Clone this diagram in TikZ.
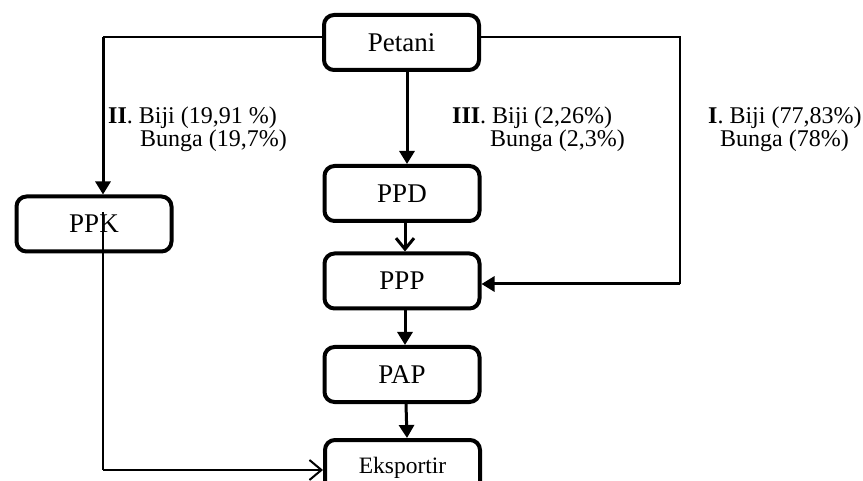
\documentclass[tikz,border=0pt]{standalone}
\usepackage{fontspec}
\setmainfont{Liberation Serif}
\usetikzlibrary{arrows.meta}
\tikzset{
  box/.style={draw, line width=4pt, rounded corners=10pt, minimum width=155pt, minimum height=55pt, inner sep=0pt, font=\fontsize{27}{30}\selectfont},
  thinline/.style={line width=1.6pt},
  thickline/.style={line width=3pt},
  filltip/.style={-{Triangle[length=13pt,width=15pt]}},
  opentip/.style={-{Straight Barb[length=11pt,width=18pt]}},
  lbl/.style={anchor=base west, inner sep=0pt, font=\fontsize{24}{28}\selectfont}
}
\begin{document}
\begin{tikzpicture}[x=1pt,y=1pt]
\useasboundingbox (0,0) rectangle (863,480);
\clip (0,0) rectangle (863,480);
% boxes
\node[box] (petani) at (401.5,437.5) {Petani};
\node[box] (ppd) at (402,286.5) {PPD};
\node[box] (ppp) at (402,199) {PPP};
\node[box] (pap) at (402,105.5) {PAP};
\node[box, font=\fontsize{23.5}{27}\selectfont] (eks) at (402.5,12.5) {Eksportir};
\node[box] (ppk) at (94,256) {PPK};
% helper coordinates
\coordinate (cL) at (103,443);
\coordinate (cR) at (680,443);
\coordinate (cR2) at (680,196);
\coordinate (cK) at (103,268);
\coordinate (cB) at (103,10);
\coordinate (xA) at (407,0);
\coordinate (xB) at (405,0);
\coordinate (xC) at (406,0);
% left branch
\draw[thinline] (petani.west |- cL) -- (cL);
\draw[thickline, filltip] (cL) -- (ppk.north -| cL);
% right branch
\draw[thinline] (petani.east |- cR) -- (cR) -- (cR2);
\draw[thickline, filltip] (cR2) -- (ppp.east |- cR2);
% central chain
\draw[thickline, filltip] (petani.south -| xA) -- (ppd.north -| xA);
\draw[thickline, opentip] (ppd.south -| xB) -- (ppp.north -| xB);
\draw[thickline, filltip] (ppp.south -| xB) -- (pap.north -| xB);
\draw[thickline, filltip] (pap.south -| xC) -- ([xshift=1pt]eks.north -| xC);
% PPK to exporter
\draw[thinline] (cK) -- (cB);
\draw[line width=2pt, -{Straight Barb[length=12pt,width=20pt]}] (cB) -- (eks.west |- cB);
% labels
\node[lbl] (l2a) at (108,356) {\textbf{II}. Biji (19,91 \%)};
\node[lbl] (l2b) at (140,333) {Bunga (19,7\%)};
\node[lbl] (l3a) at (452,356) {\textbf{III}. Biji (2,26\%)};
\node[lbl] (l3b) at (490,333) {Bunga (2,3\%)};
\node[lbl] (l1a) at (708,356) {\textbf{I}. Biji (77,83\%)};
\node[lbl] (l1b) at (720,333) {Bunga (78\%)};
\end{tikzpicture}
\end{document}
